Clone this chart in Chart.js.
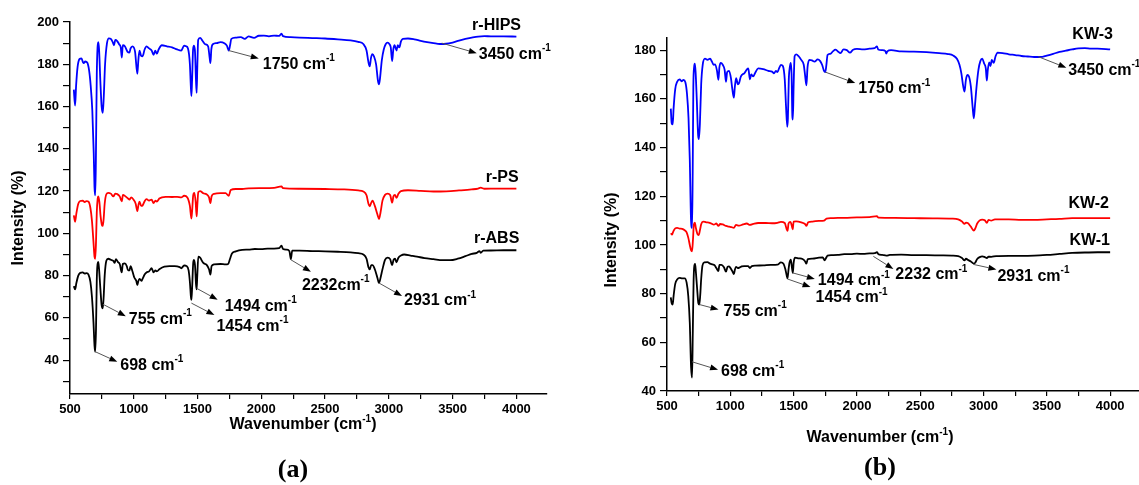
<!DOCTYPE html>
<html>
<head>
<meta charset="utf-8">
<script src="https://cdn.jsdelivr.net/npm/chart.js@4.4.1/dist/chart.umd.min.js"></script>
<style>
  html, body { margin: 0; padding: 0; background: #fff; }
  #wrap { position: relative; width: 1139px; height: 485px; overflow: hidden; }
  .panel { position: absolute; top: 0; }
</style>
</head>
<body>
<div id="wrap">
  <div class="panel" style="left:0px"><canvas id="chartA" width="560" height="485"></canvas></div>
  <div class="panel" style="left:575px"><canvas id="chartB" width="564" height="485"></canvas></div>
</div>
<script>
// ---------- tick values ----------
const xTicks = [500,750,1000,1250,1500,1750,2000,2250,2500,2750,3000,3250,3500,3750,4000];
const yTicksA = [30,40,50,60,70,80,90,100,110,120,130,140,150,160,170,180,190,200];
const yTicksB = [40,50,60,70,80,90,100,110,120,130,140,150,160,170,180];

// ---------- panel (a) data ----------
const hipsWn = [530,540,548,560,575,590,605,620,635,650,662,675,686,692,698,703,710,716,722,728,738,748,757,765,775,790,805,820,835,845,855,870,885,898,906,914,930,950,966,975,990,1010,1028,1036,1045,1058,1069,1085,1100,1120,1140,1155,1168,1181,1195,1220,1260,1300,1340,1372,1395,1410,1425,1440,1447,1452,1457,1465,1472,1480,1488,1493,1498,1505,1520,1540,1560,1583,1595,1601,1608,1620,1650,1680,1710,1730,1745,1755,1765,1800,1840,1870,1900,1943,1980,2020,2060,2100,2140,2158,2170,2230,2300,2400,2500,2600,2700,2760,2800,2825,2840,2850,2860,2870,2885,2900,2915,2923,2930,2945,2960,2975,2990,3005,3015,3026,3035,3045,3060,3070,3082,3095,3110,3150,3200,3250,3300,3350,3400,3450,3500,3550,3600,3650,3700,3750,3800,3900,4000];
const hipsVal = [168,160.5,170,179,182.5,182.8,180.5,181.3,180.8,177,170,158,138,122,118,135,175,188,190.5,187,172,160,157,165,180,190,192.3,192,190.5,189,191.5,191,189.5,188,183.2,189,188.5,186,185.5,187.5,188.5,186,175.5,182,186.5,184,183.8,187,188.5,187.5,186.5,184.5,186.5,185,187,189,188.5,188,187,186.5,188.8,188.5,187.5,180,170,165,172,187,188.8,186,172,166.5,178,191.5,192.5,191,189.5,188.5,183,180.5,187,189.5,190,190.5,190,188.8,186.5,189,192,192.6,192.8,192,193.2,192.5,193.5,193.6,193.2,193.6,193.4,194.5,193.3,192.8,192.6,192.4,192.2,191.8,191.3,190.6,189.6,186.5,181,179,183,184.8,183.5,180,172,170.5,173,182,187,189.5,190.2,189.5,188,181.5,187,189,186.5,189,188,190.8,192,192.2,191.8,191.1,190.5,190,189.6,189.7,190.3,191.2,192,192.6,193.1,193.3,193.2,193.2,193.1];

const psWn = [530,540,550,565,580,600,615,630,645,660,672,684,692,698,704,710,717,722,730,740,750,757,764,772,785,800,820,840,855,870,890,906,915,935,955,966,980,1000,1015,1028,1037,1045,1058,1069,1085,1100,1120,1140,1155,1170,1181,1200,1250,1300,1340,1372,1395,1420,1440,1452,1458,1466,1475,1485,1493,1498,1506,1520,1545,1570,1590,1601,1610,1630,1680,1720,1745,1760,1800,1850,1900,2000,2100,2158,2170,2300,2500,2650,2760,2800,2825,2840,2850,2862,2872,2890,2910,2923,2935,2950,2970,2990,3010,3026,3036,3048,3060,3075,3095,3150,3250,3350,3450,3550,3650,3700,3720,3750,3850,4000];
const psVal = [108.5,105.5,109.5,114,115.3,115.5,114.8,115.3,115,112,106,96,89,88,96,110,116.5,117.5,115,108,104,103.5,107,114,118.5,119.2,118.8,117.5,118.8,118.6,117.5,115.2,118.2,117.5,116.5,116,117,115.8,114,110.5,113.5,115,113,113.2,115.2,116.2,115.5,116,114.3,115.5,115,116.5,117.3,117.2,117.3,117,117.8,117,113,107,111,118,119.2,115,108,113,119.5,120,119,118.5,117,114.3,117.5,118.7,119,119,117.8,120.5,121,121,121.3,121.4,121.5,122.2,121.4,121.1,121,120.8,120.3,119.8,118,114,112.8,114.5,115.5,113,109,106.8,110,115.5,118.2,118.8,118.2,114.5,117.5,118.2,116.8,118.7,120,120.4,120.1,119.8,119.9,120.3,120.8,121.2,121.6,121.1,121.2,121.2];

const absWn = [530,540,550,565,580,600,615,630,645,660,672,684,692,698,704,710,716,722,728,738,748,757,764,772,785,800,820,840,850,860,875,890,906,914,930,945,955,966,975,990,1005,1020,1028,1036,1045,1060,1069,1085,1100,1120,1140,1155,1170,1181,1200,1240,1280,1320,1360,1372,1395,1415,1430,1440,1448,1452,1458,1466,1472,1480,1488,1493,1498,1506,1520,1545,1570,1590,1601,1610,1630,1680,1720,1740,1755,1770,1800,1850,1900,1950,2000,2050,2100,2140,2158,2170,2200,2220,2232,2242,2300,2400,2500,2600,2700,2760,2800,2825,2840,2850,2862,2872,2890,2910,2923,2935,2950,2970,2990,3010,3026,3036,3048,3060,3075,3095,3120,3170,3220,3280,3350,3420,3480,3540,3600,3650,3690,3710,3720,3740,3800,3900,4000];
const absVal = [75,73.5,76.5,80,81.3,81.5,81,81.2,80.5,77,70,58,47,44,55,78,85.5,86.5,83,74,66,64.5,70,80,87,88,87.5,87,86,87.8,86.5,85.5,81.5,85.5,85.8,84.5,82.5,82.5,84.5,82,79,77.5,75.5,77.5,78.5,77.5,78.5,80.5,81.5,82,83.5,81.5,82.5,82,83,84.3,84.5,84.5,84,83.5,84.8,84.5,82.5,77,70,68.5,75,86,87.5,85,76,73.5,80,89,88.5,86,85.2,83,80.5,84.5,85.3,85.5,85.3,85.5,88,90.5,91.5,92.2,92.3,92.6,92.5,92.8,92.8,93,94.2,92.6,92.3,91.6,87.8,91.8,91.8,91.6,91.5,91.3,91,90.6,90,88,84,83,85,85,83,79,76.5,79,83,87.5,88.5,87.8,85,87.3,88,86.3,88.5,89.5,90,89.5,89,88.3,87.8,87.3,87.3,88,89.2,90.3,90.8,91.6,90.8,91.8,91.9,92,92];

// ---------- panel (b) data ----------
const kw3Wn = [530,537,545,552,565,580,600,615,630,645,658,670,680,690,698,703,708,714,720,726,735,746,752,760,770,782,800,820,840,855,868,880,895,906,914,925,940,955,966,975,990,1005,1016,1028,1036,1046,1060,1069,1082,1095,1110,1130,1142,1155,1165,1181,1195,1220,1260,1300,1330,1345,1360,1372,1385,1400,1415,1430,1440,1450,1455,1462,1470,1478,1484,1490,1494,1500,1508,1520,1540,1560,1580,1590,1601,1610,1625,1645,1665,1690,1710,1725,1740,1750,1758,1768,1790,1810,1830,1850,1870,1895,1920,1945,1970,2000,2050,2100,2140,2158,2168,2200,2225,2232,2240,2270,2350,2450,2550,2650,2720,2760,2790,2810,2825,2840,2850,2860,2872,2885,2900,2915,2923,2932,2945,2960,2975,2990,3005,3018,3026,3034,3045,3055,3065,3080,3095,3110,3150,3200,3250,3300,3350,3400,3450,3500,3550,3600,3650,3700,3750,3800,3850,3900,4000];
const kw3Val = [156,150,149.5,156,164,167,168,167.2,167.8,166.8,162,152,135,110,107,130,165,173,174.5,171,160,145,143.5,150,166,174,176.5,176,176.5,175.3,174,174.2,171.5,167.8,173,174.8,174,172,167,171,171.5,168.5,164,160.5,165,168.5,166,166.5,169,170,170.5,172,172.5,168,170,169.2,170.5,172.5,172.2,171.5,171.2,170.5,171.5,171,172.5,174,173.5,168,157,148.5,152,168,173,174.8,170,153,151.5,165,177.5,178.3,177.5,176,174,170,165.5,173,176,175.8,175.3,176.2,175.5,174,171.5,171,173.5,178,178.5,179.5,180.2,179.5,178.8,180.3,180,179,180.2,180.5,180.3,180.6,180.8,181.6,180.3,180,179.6,178.6,179.5,180,179.5,179.4,179.2,178.8,178.4,177.8,176.5,174,170.5,165,163,167.5,169.8,169.2,165,156,152,157,165,172,175.5,176.5,174.5,172.5,167.5,172,175,173.5,176,174.8,177.5,179,178.8,178.3,178,177.6,177.4,177.2,177.2,177.8,178.5,179.3,179.8,180.3,180.7,180.8,180.6,180.6,180.3];

const kw2Wn = [530,540,550,565,580,600,620,640,655,668,680,690,698,705,712,720,728,740,750,760,770,785,810,830,850,870,890,906,920,940,966,990,1010,1028,1045,1069,1100,1130,1155,1181,1220,1280,1330,1372,1400,1430,1445,1452,1460,1475,1485,1493,1500,1520,1560,1590,1601,1615,1650,1700,1740,1760,1800,1850,1900,2000,2100,2158,2170,2300,2450,2600,2750,2800,2830,2850,2862,2875,2900,2923,2935,2950,2970,2990,3010,3026,3040,3060,3090,3200,3300,3400,3500,3600,3700,3800,4000];
const kw2Val = [104.8,104.2,105.6,106.8,107,106.7,106.6,106,105.2,103,100,97.8,97.4,102,108.3,109.2,107,104.5,104,106,108.5,109.6,109.3,109.2,108.8,108.3,108.8,107.8,108.6,108.4,107.8,107.5,107.3,107,108.2,107.9,108.4,108.8,108.2,108.6,109,109,108.9,109.1,109.5,109,106.5,105.8,108.8,109.5,108,106.4,109.6,109.7,109.3,108.6,107.8,109.3,109.6,109.9,110,110.8,111,111.1,111.1,111.3,111.4,111.8,111.2,111.1,111,110.9,110.8,110.5,109.6,108.7,109.2,109,107.5,105.9,106.8,108.8,110.1,110.4,110.1,109.1,110.3,110,110.5,110.5,110.3,110.3,110.5,110.7,111,111,111];

const kw1Wn = [530,537,545,552,565,580,600,620,640,655,668,680,690,698,704,710,716,722,728,738,748,755,762,770,780,795,820,840,860,875,890,906,914,930,950,966,978,990,1005,1018,1028,1036,1045,1060,1075,1090,1110,1140,1155,1170,1200,1260,1320,1372,1400,1420,1435,1445,1452,1460,1468,1478,1486,1494,1500,1510,1540,1570,1590,1601,1612,1650,1700,1730,1745,1755,1768,1800,1850,1900,1950,2000,2050,2100,2140,2158,2170,2200,2232,2260,2350,2450,2550,2650,2750,2800,2830,2850,2862,2875,2900,2923,2935,2950,2970,2990,3010,3026,3040,3060,3100,3200,3300,3400,3500,3600,3700,3800,3900,4000];
const kw1Val = [78.5,76,75.5,79,84,85.8,86.5,86.3,86.3,84.5,79,68,50,45.5,65,85,91.5,92.2,89,82,76,75.5,79,86,91.5,92.8,92.9,92.3,92,91.7,90.5,89.3,91.8,91.8,90.8,89,91,91.2,90.2,89,88,89.8,91,90.5,90.8,91.2,91.3,91.3,90.5,91.3,91.5,91.6,91.8,91.9,92.8,92.3,90,87.5,86.3,90,92.8,94,91,88.5,92.5,94.8,94.5,94.2,93.3,92.3,94.2,94.4,94.8,94.9,93.7,94.5,95.6,95.8,95.9,96.2,96.2,96.4,96.3,96.5,96.6,97,96.2,95.9,95.6,95.9,96,95.8,95.8,95.7,95.6,95.4,94.6,93.7,94.4,93.9,93.2,92.3,92.8,94.2,95,95.3,95,94.6,95.2,95.1,95.4,95.5,95.5,95.6,95.9,96.3,96.7,96.9,97,97];

// ---------- peak annotations (anchor at the marked band) ----------
const peakTextA = ['1750 cm', '3450 cm', '698 cm', '755 cm', '1454 cm', '1494 cm', '2232cm', '2931 cm'];
const peakWnA   = [1745, 3415, 698, 757, 1452, 1493, 2232, 2923];
const peakValA  = [186.5, 190, 44, 66.5, 67, 74, 87.5, 76.5];

const peakTextB = ['1750 cm', '3450 cm', '698 cm', '755 cm', '1494 cm', '1454 cm', '2232 cm', '2931 cm'];
const peakWnB   = [1750, 3433, 698, 757, 1494, 1452, 2130, 2920];
const peakValB  = [171, 177.3, 52, 75.5, 88.5, 86, 95.3, 92];

const seriesNamesA = ['r-HIPS', 'r-PS', 'r-ABS'];
const seriesNamesB = ['KW-3', 'KW-2', 'KW-1'];

// arrow offsets (head relative to anchor) and text offsets (relative to head), px
const arrowLayoutA = [[30, 8, 4, 6], [35, 10, 2, 1], [22, 10, 3, 4], [23, 12, 3, 3], [23, 12, 2, 11], [21, 11.5, 7, 7], [20, 12, -9, 14], [23, 13, 2, 5]];
const arrowLayoutB = [[30, 11, 3, 6], [28, 11, 2, 3], [26, 8, 3, 2], [19, 5, 5, 2], [22, 6, 3, 2], [23, 8, 5, 11], [20, 12.6, 2, 6], [23, 5, 1, 7]];
// series name positions: right edge (wavenumber) and middle (intensity)
const namePosA = [[4036, 198.2], [4017, 126.6], [4023, 97.3]];
const namePosB = [[4022, 186.5], [3991, 117], [3999, 101.9]];

const SANS = '"Liberation Sans", Arial, sans-serif';
const tickFont = { family: SANS, weight: 'bold', size: 13 };

function pts(wn, val) {
    return wn.map((w, i) => ({ x: w, y: val[i] }));
}

function lineSet(wn, val, color) {
    return {
        data: pts(wn, val),
        borderColor: color,
        borderWidth: 1.8,
        pointRadius: 0,
        cubicInterpolationMode: 'monotone',
        fill: false
    };
}

function drawSup(ctx, x, cy, main, sup, size) {
    ctx.font = 'bold ' + size + 'px ' + SANS;
    ctx.textBaseline = 'middle';
    ctx.textAlign = 'left';
    ctx.fillText(main, x, cy);
    const w = ctx.measureText(main).width;
    ctx.font = 'bold ' + Math.round(size * 0.62) + 'px ' + SANS;
    ctx.fillText(sup, x + w, cy - size * 0.38);
    return w + ctx.measureText(sup).width;
}

function drawArrow(ctx, x0, y0, x1, y1) {
    const ang = Math.atan2(y1 - y0, x1 - x0);
    const len = 8, half = 3;
    ctx.strokeStyle = '#555';
    ctx.lineWidth = 1;
    ctx.beginPath();
    ctx.moveTo(x0, y0);
    ctx.lineTo(x1 - Math.cos(ang) * len, y1 - Math.sin(ang) * len);
    ctx.stroke();
    ctx.fillStyle = '#000';
    ctx.beginPath();
    ctx.moveTo(x1, y1);
    ctx.lineTo(x1 - Math.cos(ang) * len - Math.sin(ang) * half, y1 - Math.sin(ang) * len + Math.cos(ang) * half);
    ctx.lineTo(x1 - Math.cos(ang) * len + Math.sin(ang) * half, y1 - Math.sin(ang) * len - Math.cos(ang) * half);
    ctx.closePath();
    ctx.fill();
}

// label only every `step`, leave the minor ticks blank
function everyNth(step) {
    return function (v) {
        const n = Number(v);
        return Math.abs(n / step - Math.round(n / step)) < 1e-6 ? String(Math.round(n)) : '';
    };
}

function overlay(cfg) {
    return {
        id: 'overlay',
        afterDraw(chart) {
            const ctx = chart.ctx, xs = chart.scales.x, ys = chart.scales.y;
            ctx.save();
            // peak arrows + labels
            cfg.text.forEach((t, i) => {
                const x0 = xs.getPixelForValue(cfg.wn[i]), y0 = ys.getPixelForValue(cfg.val[i]);
                const l = cfg.arrows[i];
                const x1 = x0 + l[0], y1 = y0 + l[1];
                drawArrow(ctx, x0, y0, x1, y1);
                ctx.fillStyle = '#000';
                drawSup(ctx, x1 + l[2], y1 + l[3], t, '-1', 16);
            });
            // series names
            ctx.fillStyle = '#000';
            ctx.font = 'bold 16px ' + SANS;
            ctx.textAlign = 'right';
            ctx.textBaseline = 'middle';
            cfg.names.forEach((n, i) => {
                ctx.fillText(n, xs.getPixelForValue(cfg.namePos[i][0]), ys.getPixelForValue(cfg.namePos[i][1]));
            });
            // x-axis title with superscript
            ctx.font = 'bold 16px ' + SANS;
            const a = 'Wavenumber (cm', b = ')';
            const wa = ctx.measureText(a).width, wb = ctx.measureText(b).width;
            ctx.font = 'bold 10px ' + SANS;
            const ws = ctx.measureText('-1').width;
            let x = cfg.xTitle[0] - (wa + ws + wb) / 2;
            ctx.textAlign = 'left';
            ctx.font = 'bold 16px ' + SANS;
            ctx.fillText(a, x, cfg.xTitle[1]);
            ctx.font = 'bold 10px ' + SANS;
            ctx.fillText('-1', x + wa, cfg.xTitle[1] - 6);
            ctx.font = 'bold 16px ' + SANS;
            ctx.fillText(b, x + wa + ws, cfg.xTitle[1]);
            // y-axis title
            ctx.save();
            ctx.translate(cfg.yTitle[0], cfg.yTitle[1]);
            ctx.rotate(-Math.PI / 2);
            ctx.textAlign = 'center';
            ctx.fillText('Intensity (%)', 0, 0);
            ctx.restore();
            // panel tag
            ctx.font = 'bold 26px "Liberation Serif", "Times New Roman", serif';
            ctx.textAlign = 'center';
            ctx.fillText(cfg.tag, cfg.tagPos[0], cfg.tagPos[1]);
            ctx.restore();
        }
    };
}

function makeChart(id, datasets, ax, cfg) {
    return new Chart(document.getElementById(id), {
        type: 'line',
        data: { datasets },
        options: {
            responsive: false,
            animation: false,
            layout: { padding: { top: ax.top, right: ax.right, left: 0, bottom: 0 } },
            plugins: { legend: { display: false }, tooltip: { enabled: false } },
            scales: {
                x: {
                    type: 'linear', min: 500, max: ax.xMax,
                    afterFit: s => { s.height = ax.xH; },
                    afterBuildTicks: s => { s.ticks = xTicks.map(v => ({ value: v })); },
                    ticks: {
                        autoSkip: false, maxRotation: 0,
                        color: '#000', font: tickFont, padding: 3,
                        callback: everyNth(500)
                    },
                    grid: { drawOnChartArea: false, drawTicks: true, tickLength: 5, color: '#000', lineWidth: 1.2 },
                    border: { color: '#000', width: 1.5 }
                },
                y: {
                    type: 'linear', min: ax.yMin, max: ax.yMax,
                    afterFit: s => { s.width = ax.yW; },
                    afterBuildTicks: s => { s.ticks = ax.yTicks.map(v => ({ value: v })); },
                    ticks: {
                        autoSkip: false,
                        color: '#000', font: tickFont, padding: 4,
                        callback: everyNth(20)
                    },
                    grid: { drawOnChartArea: false, drawTicks: true, tickLength: 7, color: '#000', lineWidth: 1.2 },
                    border: { color: '#000', width: 1.5 }
                }
            }
        },
        plugins: [overlay(cfg)]
    });
}

makeChart('chartA', [
    lineSet(hipsWn, hipsVal, '#0000ff'),
    lineSet(psWn, psVal, '#ff0000'),
    lineSet(absWn, absVal, '#000000')
], { top: 22, right: 13, xH: 91, yW: 70, xMax: 4240, yMin: 24, yMax: 200, yTicks: yTicksA }, {
    text: peakTextA, wn: peakWnA, val: peakValA, arrows: arrowLayoutA,
    names: seriesNamesA, namePos: namePosA,
    xTitle: [303, 425], yTitle: [19, 218], tag: '(a)', tagPos: [293, 470]
});

makeChart('chartB', [
    lineSet(kw3Wn, kw3Val, '#0000ff'),
    lineSet(kw2Wn, kw2Val, '#ff0000'),
    lineSet(kw1Wn, kw1Val, '#000000')
], { top: 38, right: 0, xH: 94, yW: 92, xMax: 4228, yMin: 40, yMax: 185, yTicks: yTicksB }, {
    text: peakTextB, wn: peakWnB, val: peakValB, arrows: arrowLayoutB,
    names: seriesNamesB, namePos: namePosB,
    xTitle: [305, 438], yTitle: [37, 240], tag: '(b)', tagPos: [305, 468]
});
</script>
</body>
</html>
